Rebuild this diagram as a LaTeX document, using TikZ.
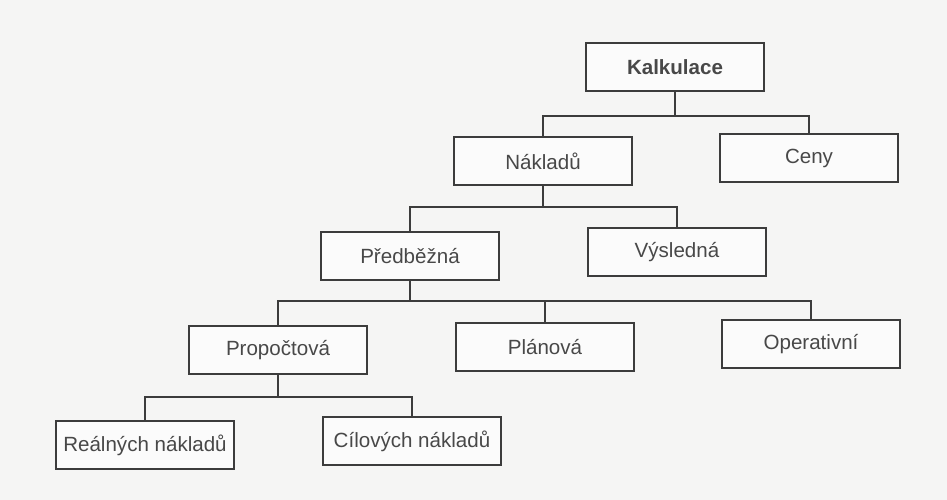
\documentclass[tikz,border=0pt]{standalone}
\usepackage{fontspec}
\setmainfont{Liberation Sans}
\usepackage{xcolor}
\usepackage{tikz}
\definecolor{scanbg}{HTML}{F5F5F4}
\definecolor{inkgray}{HTML}{3C3C3C}
\definecolor{textgray}{HTML}{484848}

\begin{document}
\begin{tikzpicture}[
                    box/.style={draw=inkgray, line width=1.1pt, fill=white!60!scanbg,
                                minimum width=3.56cm, minimum height=0.96cm,
                                text=textgray, font=\fontsize{11.7}{14}\selectfont},
                    link/.style={draw=inkgray, line width=1.1pt}
                   ]
                    \fill[scanbg] (0,0) rectangle (18.94,-10);
                    \useasboundingbox (0,0) rectangle (18.94,-10);

                    \node[box, font=\fontsize{11.7}{14}\selectfont\bfseries] (kalkulace) at (13.50,-1.34) {Kalkulace};
                    \node[box] (naklady) at (10.86,-3.22) {Nákladů};
                    \node[box] (ceny) at (16.18,-3.16) {Ceny};
                    \node[box] (predbezna) at (8.20,-5.12) {Předběžná};
                    \node[box] (vysledna) at (13.54,-5.04) {Výsledná};
                    \node[box] (propoctova) at (5.56,-7.00) {Propočtová};
                    \node[box] (planova) at (10.90,-6.94) {Plánová};
                    \node[box] (operativni) at (16.22,-6.88) {Operativní};
                    \node[box] (realnych) at (2.90,-8.90) {Reálných nákladů};
                    \node[box] (cilovych) at (8.24,-8.82) {Cílových nákladů};

                    % levels of the horizontal bars
                    \coordinate (bar1) at (0,-2.32);
                    \coordinate (bar2) at (0,-4.14);
                    \coordinate (bar3) at (0,-6.02);
                    \coordinate (bar4) at (0,-7.94);

                    \draw[link] (kalkulace.south) -- (kalkulace.south |- bar1) -| (naklady.north);
                    \draw[link] (kalkulace.south |- bar1) -| (ceny.north);
                    \draw[link] (naklady.south) -- (naklady.south |- bar2) -| (predbezna.north);
                    \draw[link] (naklady.south |- bar2) -| (vysledna.north);
                    \draw[link] (predbezna.south) -- (predbezna.south |- bar3) -| (propoctova.north);
                    \draw[link] (predbezna.south |- bar3) -| (operativni.north);
                    \draw[link] (planova.north) -- (planova.north |- bar3);
                    \draw[link] (propoctova.south) -- (propoctova.south |- bar4) -| (realnych.north);
                    \draw[link] (propoctova.south |- bar4) -| (cilovych.north);
\end{tikzpicture}
\end{document}
